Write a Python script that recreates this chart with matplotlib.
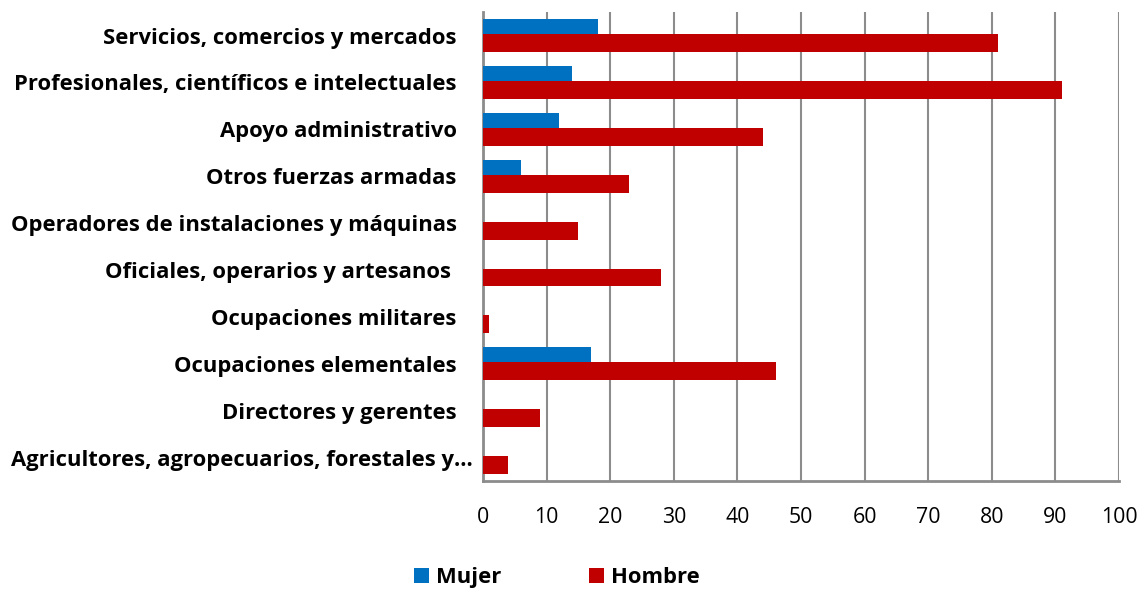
import numpy as np
import matplotlib.pyplot as plt
from matplotlib.transforms import ScaledTranslation

categorias = [
    "Servicios, comercios y mercados",
    "Profesionales, científicos e intelectuales",
    "Apoyo administrativo",
    "Otros fuerzas armadas",
    "Operadores de instalaciones y máquinas",
    "Oficiales, operarios y artesanos ",
    "Ocupaciones militares",
    "Ocupaciones elementales",
    "Directores y gerentes",
    "Agricultores, agropecuarios, forestales y…",
]
mujer = [18, 14, 12, 6, 0, 0, 0, 17, 0, 0]
hombre = [81, 91, 44, 23, 15, 28, 1, 46, 9, 4]
ticks = list(range(0, 101, 10))

plt.rcParams['font.family'] = ['Open Sans', 'DejaVu Sans']

fig = plt.figure(figsize=(11.46, 5.92), dpi=100)
ax = fig.add_axes([0.4215, 0.1875, 0.555, 0.792])

y = np.arange(len(categorias))
ax.barh(y - 0.16, mujer, height=0.38, color='#0070C0', label='Mujer', zorder=3)
ax.barh(y + 0.16, hombre, height=0.38, color='#C00000', label='Hombre', zorder=3)

ax.set_ylim(len(categorias) - 0.5, -0.5)
ax.set_xlim(0, 100)
ax.set_xticks(ticks)
ax.set_xticklabels([str(t) for t in ticks], fontsize=15.3)
ax.set_yticks(y)
ax.set_yticklabels(categorias, fontsize=15.8, fontweight='bold')
ax.tick_params(axis='both', length=0)
ax.tick_params(axis='x', pad=19)
ax.tick_params(axis='y', pad=19)

# the cut-off label runs a bit closer to the axis
last = ax.get_yticklabels()[-1]
last.set_transform(last.get_transform() + ScaledTranslation(16 / 100, 0, fig.dpi_scale_trans))

ax.grid(axis='x', color='#8c8c8c', linewidth=1.5, zorder=0)
for s in ['top', 'right']:
    ax.spines[s].set_visible(False)
for s in ['left', 'bottom']:
    ax.spines[s].set_color('#8c8c8c')
    ax.spines[s].set_linewidth(2)

fig.legend(loc='center', bbox_to_anchor=(0.486, 0.024), ncol=2, frameon=False,
           prop={'size': 15.8, 'weight': 'bold'}, handlelength=0.68, handleheight=0.68,
           handletextpad=0.3, columnspacing=4.0)

fig.savefig('out.png', dpi=100)
